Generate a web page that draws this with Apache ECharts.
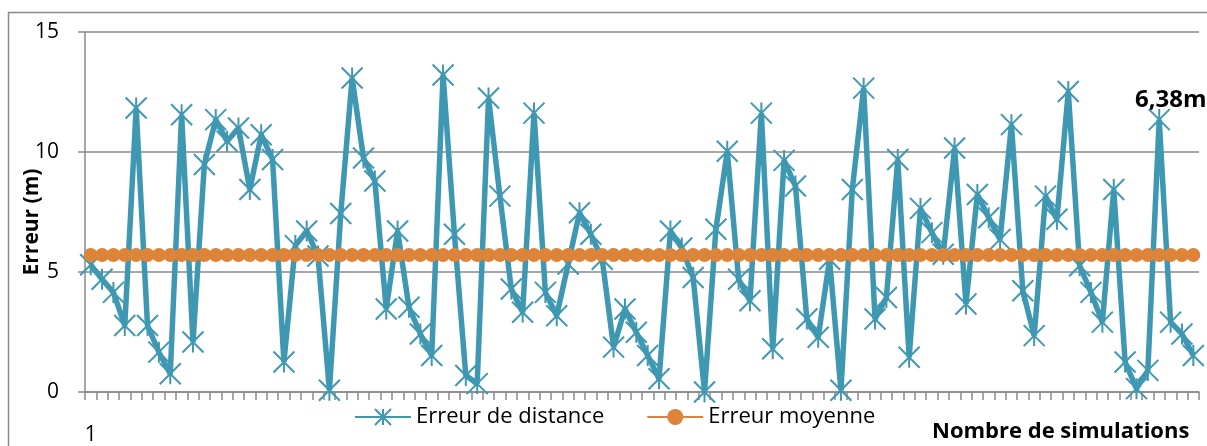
<!DOCTYPE html>
<html>
<head>
<meta charset="utf-8">
<script src="https://cdn.jsdelivr.net/npm/echarts@6/dist/echarts.min.js"></script>
<style>
html,body{margin:0;padding:0;background:#fff;}
#chart{width:1207px;height:446px;}
</style>
</head>
<body>
<div id="chart"></div>
<script>
// Data
const categories = [];
for (let i = 1; i <= 98; i++) categories.push(String(i));

const erreurDistance = [
  5.3, 4.7, 4.15, 2.77, 11.83, 2.77, 1.66, 0.76, 11.55, 2.08,
  9.48, 11.35, 10.45, 11.0, 8.44, 10.72, 9.69, 1.25, 6.1, 6.71,
  5.67, 0.07, 7.44, 13.08, 9.75, 8.79, 3.46, 6.71, 3.53, 2.42,
  1.52, 13.21, 6.57, 0.69, 0.35, 12.25, 8.16, 4.29, 3.32, 11.62,
  4.15, 3.18, 5.33, 7.47, 6.57, 5.53, 1.87, 3.46, 2.49, 1.52,
  0.55, 6.71, 6.0, 4.77, 0.0, 6.78, 10.03, 4.7, 3.8, 11.62,
  1.8, 9.65, 8.58, 3.04, 2.28, 5.53, 0.07, 8.44, 12.66, 3.04,
  3.94, 9.69, 1.45, 7.65, 6.64, 5.74, 10.17, 3.67, 8.23, 7.26,
  6.36, 11.14, 4.22, 2.35, 8.16, 7.2, 12.52, 5.26, 4.15, 2.91,
  8.44, 1.25, 0.14, 0.9, 11.35, 2.91, 2.42, 1.52
];

const erreurMoyenne = [
  5.71, 5.71, 5.71, 5.71, 5.71, 5.71, 5.71, 5.71, 5.71, 5.71,
  5.71, 5.71, 5.71, 5.71, 5.71, 5.71, 5.71, 5.71, 5.71, 5.71,
  5.71, 5.71, 5.71, 5.71, 5.71, 5.71, 5.71, 5.71, 5.71, 5.71,
  5.71, 5.71, 5.71, 5.71, 5.71, 5.71, 5.71, 5.71, 5.71, 5.71,
  5.71, 5.71, 5.71, 5.71, 5.71, 5.71, 5.71, 5.71, 5.71, 5.71,
  5.71, 5.71, 5.71, 5.71, 5.71, 5.71, 5.71, 5.71, 5.71, 5.71,
  5.71, 5.71, 5.71, 5.71, 5.71, 5.71, 5.71, 5.71, 5.71, 5.71,
  5.71, 5.71, 5.71, 5.71, 5.71, 5.71, 5.71, 5.71, 5.71, 5.71,
  5.71, 5.71, 5.71, 5.71, 5.71, 5.71, 5.71, 5.71, 5.71, 5.71,
  5.71, 5.71, 5.71, 5.71, 5.71, 5.71, 5.71, 5.71
];

const yTicks = { min: 0, max: 15, interval: 5 };
const seriesNames = ['Erreur de distance', 'Erreur moyenne'];
const xTitle = 'Nombre de simulations';
const yTitle = 'Erreur (m)';
const annotation = '6,38m';

const FONT = '"Open Sans", "Liberation Sans", sans-serif';
const BLUE = '#3f98b2';
const ORANGE = '#dd8438';
const GRID = '#898989';

const chart = echarts.init(document.getElementById('chart'), null, { renderer: 'canvas' });
chart.setOption({
  animation: false,
  backgroundColor: '#fff',
  textStyle: { fontFamily: FONT, color: '#000' },
  grid: { left: 85, right: 8, top: 32, bottom: 53, containLabel: false },
  legend: {
    left: 349, top: 401,
    itemWidth: 56, itemHeight: 20, itemGap: 42,
    textStyle: { fontFamily: FONT, fontSize: 22, color: '#000' },
    data: seriesNames
  },
  xAxis: {
    type: 'category',
    data: categories,
    boundaryGap: true,
    axisLine: { lineStyle: { color: GRID, width: 1.5 } },
    axisTick: { show: true, alignWithLabel: false, interval: 0, length: 8, lineStyle: { color: GRID, width: 1.5 } },
    axisLabel: {
      interval: 0,
      formatter: (v, idx) => idx === 0 ? v : '',
      margin: 33, fontSize: 21, color: '#000', fontFamily: FONT
    },
    splitLine: { show: false }
  },
  yAxis: {
    type: 'value',
    min: yTicks.min, max: yTicks.max, interval: yTicks.interval,
    axisLine: { show: true, lineStyle: { color: GRID, width: 1.5 } },
    axisTick: { show: true, length: 7, lineStyle: { color: GRID, width: 1.5 } },
    axisLabel: { margin: 26, fontSize: 21, color: '#000', fontFamily: FONT },
    splitLine: { show: true, lineStyle: { color: GRID, width: 1.5 } }
  },
  series: [
    {
      name: seriesNames[0],
      type: 'line',
      data: erreurDistance,
      symbol: 'path://M0,0L20,20M20,0L0,20M10,0L10,20',
      symbolSize: 21,
      lineStyle: { color: BLUE, width: 5.5 },
      itemStyle: { color: 'rgba(0,0,0,0)', borderColor: BLUE, borderWidth: 2 },
      z: 2
    },
    {
      name: seriesNames[1],
      type: 'line',
      data: erreurMoyenne,
      symbol: 'circle',
      symbolSize: 14,
      lineStyle: { color: ORANGE, width: 2.5 },
      itemStyle: { color: ORANGE, borderWidth: 0 },
      z: 3
    }
  ],
  graphic: [
    {
      type: 'rect', silent: true, z: -1,
      shape: { x: 8.5, y: 12.5, width: 1300, height: 600 },
      style: { fill: 'none', stroke: GRID, lineWidth: 1.5 }
    },
    {
      type: 'text', x: 932, y: 432,
      style: { text: xTitle, font: 'bold 22px ' + FONT, fill: '#000', align: 'left', verticalAlign: 'middle' }
    },
    {
      type: 'text', x: 32, y: 222, rotation: Math.PI / 2,
      style: { text: yTitle, font: 'bold 21px ' + FONT, fill: '#000', align: 'center', verticalAlign: 'middle' }
    },
    {
      type: 'text', x: 1135, y: 100,
      style: { text: annotation, font: 'bold 24px ' + FONT, fill: '#000', align: 'left', verticalAlign: 'middle' }
    }
  ]
});
</script>
</body>
</html>
